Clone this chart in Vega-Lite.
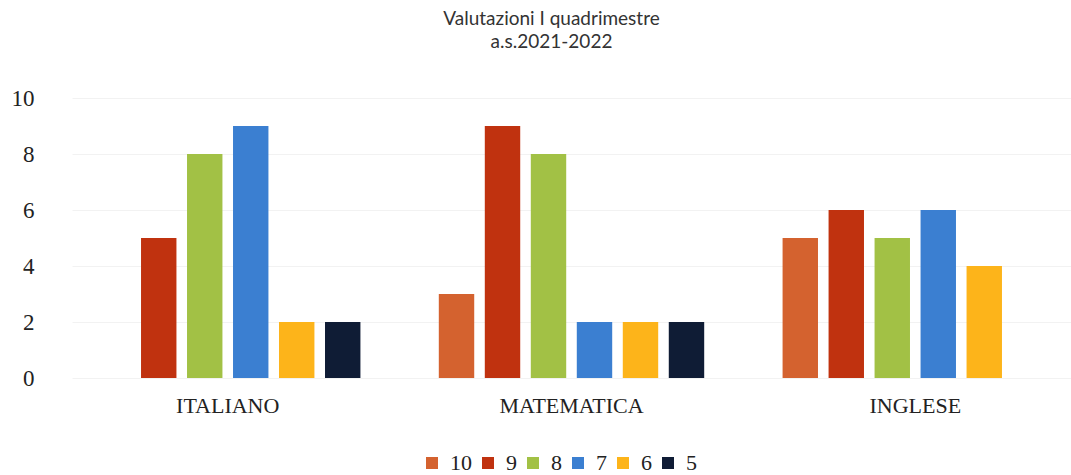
{
  "$schema": "https://vega.github.io/schema/vega-lite/v6.json",
  "autosize": {"type": "none"},
  "padding": {"left": 72, "top": 98, "right": 0, "bottom": 97},
  "width": 999,
  "height": 280,
  "background": "white",
  "title": {
    "text": ["Valutazioni I quadrimestre", "a.s.2021-2022"],
    "font": "Lato",
    "fontSize": 19,
    "fontWeight": "normal",
    "color": "#333333",
    "lineHeight": 23,
    "anchor": "middle",
    "dx": -20,
    "offset": 35
  },
  "data": {
    "values": [
      {"materia": "ITALIANO", "voto": "9", "n": 5},
      {"materia": "ITALIANO", "voto": "8", "n": 8},
      {"materia": "ITALIANO", "voto": "7", "n": 9},
      {"materia": "ITALIANO", "voto": "6", "n": 2},
      {"materia": "ITALIANO", "voto": "5", "n": 2},
      {"materia": "MATEMATICA", "voto": "10", "n": 3},
      {"materia": "MATEMATICA", "voto": "9", "n": 9},
      {"materia": "MATEMATICA", "voto": "8", "n": 8},
      {"materia": "MATEMATICA", "voto": "7", "n": 2},
      {"materia": "MATEMATICA", "voto": "6", "n": 2},
      {"materia": "MATEMATICA", "voto": "5", "n": 2},
      {"materia": "INGLESE", "voto": "10", "n": 5},
      {"materia": "INGLESE", "voto": "9", "n": 6},
      {"materia": "INGLESE", "voto": "8", "n": 5},
      {"materia": "INGLESE", "voto": "7", "n": 6},
      {"materia": "INGLESE", "voto": "6", "n": 4}
    ]
  },
  "mark": {"type": "bar"},
  "encoding": {
    "x": {
      "field": "materia",
      "type": "nominal",
      "sort": ["ITALIANO", "MATEMATICA", "INGLESE"],
      "scale": {"paddingInner": 0.228, "paddingOuter": 0.067},
      "axis": {
        "title": null,
        "domain": false,
        "ticks": false,
        "labelAngle": 0,
        "labelFont": "Liberation Serif",
        "labelFontSize": 22,
        "labelColor": "#222222",
        "labelPadding": 17
      }
    },
    "xOffset": {
      "field": "voto",
      "type": "nominal",
      "scale": {"domain": ["10", "9", "8", "7", "6", "5"], "paddingInner": 0.23, "paddingOuter": 0}
    },
    "y": {
      "field": "n",
      "type": "quantitative",
      "scale": {"domain": [0, 10]},
      "axis": {
        "title": null,
        "domain": false,
        "ticks": false,
        "values": [0, 2, 4, 6, 8, 10],
        "labelFont": "Liberation Serif",
        "labelFontSize": 23,
        "labelColor": "#222222",
        "labelPadding": 38,
        "gridColor": "#f2f2f2",
        "gridWidth": 1
      }
    },
    "color": {
      "field": "voto",
      "type": "nominal",
      "scale": {
        "domain": ["10", "9", "8", "7", "6", "5"],
        "range": ["#d4622f", "#c0320f", "#a2c145", "#3b7fd1", "#fdb41a", "#0f1c35"]
      },
      "legend": {
        "title": null,
        "orient": "none",
        "direction": "horizontal",
        "legendX": 349,
        "legendY": 354,
        "symbolType": "square",
        "symbolSize": 144,
        "symbolStrokeWidth": 0,
        "labelFont": "Liberation Serif",
        "labelFontSize": 22,
        "labelColor": "#222222",
        "labelOffset": 7,
        "columnPadding": 5
      }
    }
  },
  "config": {
    "view": {"stroke": null}
  }
}
